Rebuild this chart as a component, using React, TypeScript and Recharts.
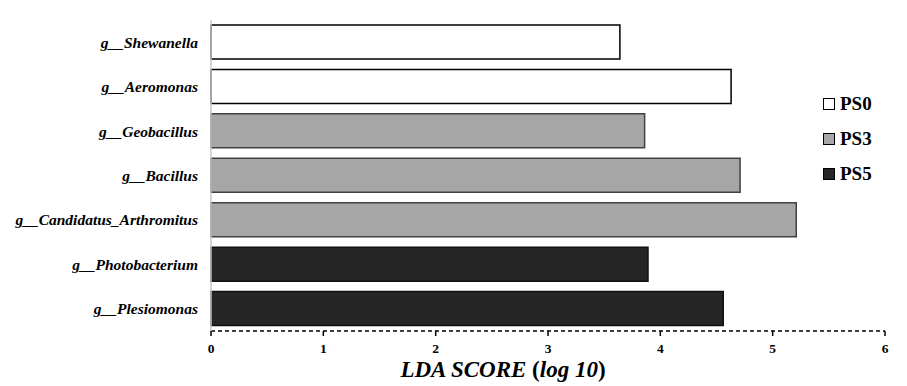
import React from 'react';
import { BarChart, Bar, XAxis, YAxis, Cell, Legend, Label } from 'recharts';

const categories = [
  'g__Shewanella',
  'g__Aeromonas',
  'g__Geobacillus',
  'g__Bacillus',
  'g__Candidatus_Arthromitus',
  'g__Photobacterium',
  'g__Plesiomonas',
];
const ldaScores = [3.64, 4.63, 3.86, 4.71, 5.21, 3.89, 4.56];
const groups = ['PS0', 'PS0', 'PS3', 'PS3', 'PS3', 'PS5', 'PS5'];
const groupNames = ['PS0', 'PS3', 'PS5'];
const xTicks = [0, 1, 2, 3, 4, 5, 6];

const fills: Record<string, string> = { PS0: '#ffffff', PS3: '#a6a6a6', PS5: '#262626' };
const strokes: Record<string, string> = { PS0: '#000000', PS3: '#404040', PS5: '#111111' };

const data = categories.map((c, i) => ({ name: c, value: ldaScores[i], group: groups[i] }));

const serif = '"Liberation Serif", "Times New Roman", serif';

const LegendContent = () => (
  <div style={{ fontFamily: serif }}>
    {groupNames.map((g) => (
      <div key={g} style={{ display: 'flex', alignItems: 'center', height: 35 }}>
        <span
          style={{
            display: 'inline-block',
            width: 10,
            height: 10,
            background: fills[g],
            border: '1px solid #000',
            marginRight: 5,
          }}
        />
        <span style={{ fontWeight: 'bold', fontSize: 19, color: '#000' }}>{g}</span>
      </div>
    ))}
  </div>
);

const AxisTitle = (props: any) => {
  const vb = props.viewBox || {};
  const cx = (vb.x ?? 211) + (vb.width ?? 674) / 2 - 45;
  return (
    <text
      x={cx}
      y={377}
      textAnchor="middle"
      fill="#000"
      fontFamily={serif}
      fontWeight="bold"
      fontSize={23}
    >
      <tspan fontStyle="italic">LDA SCORE </tspan>
      <tspan>(</tspan>
      <tspan fontStyle="italic">log 10</tspan>
      <tspan>)</tspan>
    </text>
  );
};

export default function App() {
  return (
    <div style={{ position: 'absolute', left: 0, top: 0, background: '#fff' }}>
      <BarChart
        width={907}
        height={386}
        data={data}
        layout="vertical"
        margin={{ top: 20, right: 22, bottom: 0, left: 0 }}
        barSize={34}
      >
        <XAxis
          type="number"
          domain={[0, 6]}
          ticks={xTicks}
          interval={0}
          height={55}
          axisLine={{ stroke: '#000', strokeWidth: 1.5, strokeDasharray: '4 3' }}
          tickLine={{ stroke: '#000', strokeWidth: 1.5 }}
          tickSize={5}
          tickMargin={7}
          tick={{ fill: '#000', fontFamily: serif, fontWeight: 'bold', fontSize: 13.5 }}
        >
          <Label content={<AxisTitle />} />
        </XAxis>
        <YAxis
          type="category"
          dataKey="name"
          width={211}
          axisLine={{ stroke: '#c8c8c8', strokeWidth: 1.5 }}
          tickLine={false}
          tickSize={0}
          tickMargin={13}
          tick={{ fill: '#000', fontFamily: serif, fontWeight: 'bold', fontStyle: 'italic', fontSize: 15.5 }}
        />
        <Legend
          layout="vertical"
          align="center"
          verticalAlign="middle"
          content={<LegendContent />}
          wrapperStyle={{ position: 'absolute', left: 823, top: 86, width: 80, height: 110 }}
        />
        <Bar dataKey="value" isAnimationActive={false} strokeWidth={1.5}>
          {data.map((d, i) => (
            <Cell key={i} fill={fills[d.group]} stroke={strokes[d.group]} />
          ))}
        </Bar>
      </BarChart>
    </div>
  );
}
